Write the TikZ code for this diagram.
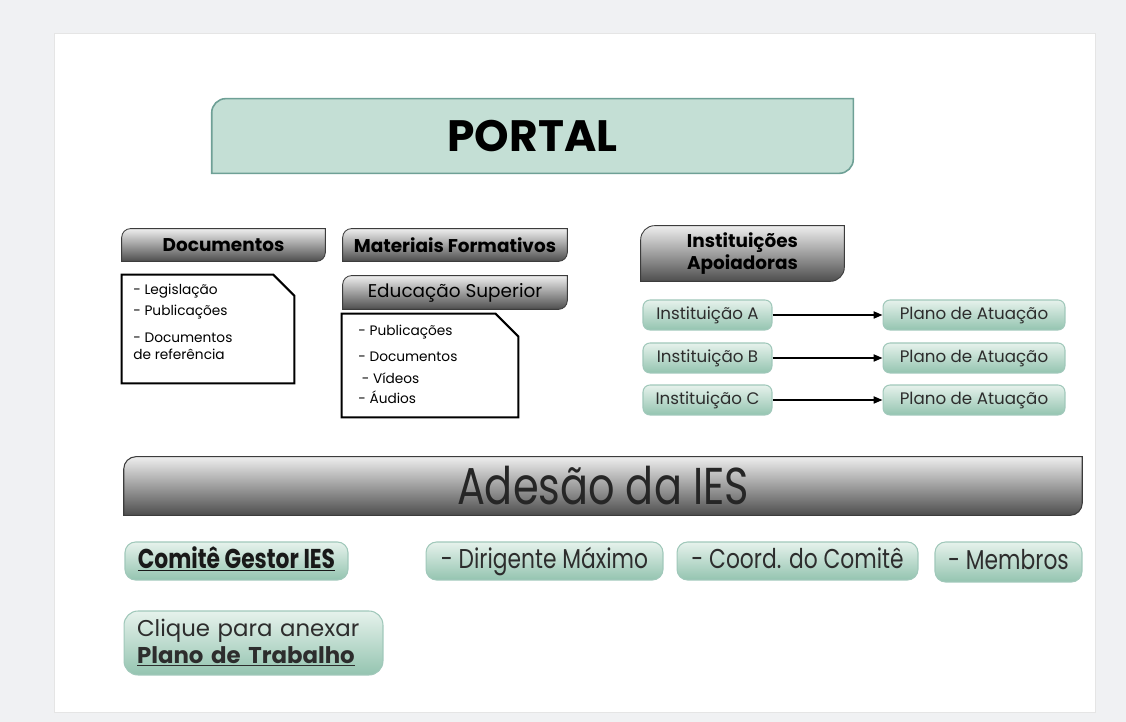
\documentclass[tikz,border=0pt]{standalone}
\usepackage{fontspec}
\setmainfont{Poppins}
\newfontfamily\narrowfont[FakeStretch=0.8]{Poppins}
\usetikzlibrary{arrows.meta,backgrounds}

\definecolor{pagebg}{RGB}{240,241,243}
\definecolor{portalfill}{RGB}{196,223,213}
\definecolor{portalline}{RGB}{110,160,150}
\definecolor{grntop}{RGB}{230,242,236}
\definecolor{grnbot}{RGB}{148,196,176}
\definecolor{grnline}{RGB}{160,200,186}
\definecolor{hdrtop}{RGB}{238,238,238}
\definecolor{hdrbot}{RGB}{78,78,78}
\definecolor{hdrline}{RGB}{60,60,60}
\definecolor{txtgray}{RGB}{45,45,45}

% box with rounded top-left and bottom-right corners, drawn from a node
\newcommand{\cornerbox}[3]{%
  \path[#3] (#1.south west) -- ([yshift=-#2]#1.north west)
    arc[start angle=180,end angle=90,radius=#2] -- (#1.north east)
    -- ([yshift=#2]#1.south east)
    arc[start angle=0,end angle=-90,radius=#2] -- cycle;}
% box with the top-right corner cut off
\newcommand{\snipbox}[2]{%
  \draw[line width=1.2pt] (#1.north west) -- ([xshift=-#2]#1.north east)
    -- ([yshift=-#2]#1.north east) -- (#1.south east) -- (#1.south west) -- cycle;}

\begin{document}
\begin{tikzpicture}[x=0.02cm,y=-0.02cm]
	\tikzstyle{every node}=[inner sep=1pt, align=center]
	\tikzstyle{hdr}=[font=\bfseries\fontsize{10.5}{12.5}\selectfont, text=black]
	\tikzstyle{hdrshade}=[top color=hdrtop, bottom color=hdrbot, draw=hdrline, line width=0.5pt]
	\tikzstyle{grn}=[draw=grnline, line width=0.6pt, rounded corners=4pt, top color=grntop, bottom color=grnbot, text=txtgray, minimum height=0.6cm]
	\tikzstyle{instbox}=[grn, font=\fontsize{9.5}{11}\selectfont]
	\tikzstyle{memberbox}=[grn, rounded corners=6pt, minimum height=0.76cm, text height=11pt, text depth=3pt, font=\narrowfont\fontsize{15.5}{17}\selectfont]
	\tikzstyle{listtext}=[anchor=north west, align=left, inner sep=0pt, font=\fontsize{7.8}{9.7}\selectfont]
	\tikzstyle{arr}=[-{Triangle[length=5pt,width=4pt]}, line width=0.9pt]
	\useasboundingbox (0,0) rectangle (1126,722);

	% title
	\node (portal) at (532.5,136) [minimum width=12.82cm, minimum height=1.48cm, font=\bfseries\fontsize{25}{30}\selectfont] {PORTAL};

	% headers
	\node[hdr] (docs) at (223.5,245) [minimum width=4.06cm, minimum height=0.64cm] {Documentos};
	\node[hdr] (mat) at (455,245) [minimum width=4.48cm, minimum height=0.64cm] {Materiais Formativos};
	\node[hdr] (apoio) at (742.5,253.5) [minimum width=4.06cm, minimum height=1.1cm] {Instituições\\Apoiadoras};
	\node (edu) at (455,292.5) [minimum width=4.48cm, minimum height=0.66cm, font=\fontsize{10.5}{12.5}\selectfont] {Educação Superior};

	% lists
	\node (doclist) at (208,329) [minimum width=3.44cm, minimum height=2.16cm] {};
	\node[listtext] (doctext) at (133,284) {- Legislação\\[2.3pt]- Publicações\\[5.7pt]- Documentos\\de referência};
	\node (edulist) at (430,365.5) [minimum width=3.52cm, minimum height=2.06cm] {};
	\node[listtext] (edutext) at (358,325) {- Publicações\\[5.1pt]- Documentos\\[2.8pt]\hspace{2pt}- Vídeos\\[1.7pt]- Áudios};

	% supporting institutions
	\node[instbox] (instA) at (707.5,315) [minimum width=2.58cm] {Instituição A};
	\node[instbox] (instB) at (707.5,358) [minimum width=2.58cm] {Instituição B};
	\node[instbox] (instC) at (707.5,400) [minimum width=2.58cm] {Instituição C};
	\node[instbox] (planA) at (974,315) [minimum width=3.64cm] {Plano de Atuação};
	\node[instbox] (planB) at (974,358) [minimum width=3.64cm] {Plano de Atuação};
	\node[instbox] (planC) at (974,400) [minimum width=3.64cm] {Plano de Atuação};
	\draw[arr] (instA) -- (planA);
	\draw[arr] (instB) -- (planB);
	\draw[arr] (instC) -- (planC);

	% adhesion
	\node (adesao) at (603,486) [minimum width=19.16cm, minimum height=1.16cm, text=black!85, font=\narrowfont\fontsize{29.5}{34}\selectfont] {Adesão da IES};
	\node[memberbox] (comite) at (236.5,561) [minimum width=4.46cm, text=black!90] {\textbf{\underline{Comitê Gestor IES}}};
	\node[memberbox] (dirig) at (544.5,561) [minimum width=4.74cm] {- Dirigente Máximo};
	\node[memberbox] (coord) at (797.5,561) [minimum width=4.82cm] {- Coord. do Comitê};
	\node[memberbox] (membros) at (1008.5,562) [minimum width=2.94cm, minimum height=0.8cm] {- Membros};
	\node[grn] (plano) at (253.5,643) [minimum width=5.18cm, minimum height=1.28cm, rounded corners=8pt, inner xsep=0.26cm, text width=4.66cm, align=left, font=\fontsize{13}{15}\selectfont] {Clique para anexar\\\textbf{\underline{Plano de Trabalho}}};

	\snipbox{doclist}{12pt}
	\snipbox{edulist}{13pt}

	\begin{scope}[on background layer]
		\fill[pagebg] (0,0) rectangle (1126,722);
		\draw[fill=white, draw=gray!20] (54,33) rectangle (1095,712);
		\cornerbox{portal}{8pt}{fill=portalfill, draw=portalline, line width=0.9pt}
		\cornerbox{docs}{5pt}{hdrshade}
		\cornerbox{mat}{5pt}{hdrshade}
		\cornerbox{apoio}{8pt}{hdrshade}
		\cornerbox{edu}{5pt}{hdrshade}
		\cornerbox{adesao}{7pt}{top color=hdrtop, bottom color=hdrbot, draw=hdrline, line width=0.6pt}
	\end{scope}
\end{tikzpicture}
\end{document}
